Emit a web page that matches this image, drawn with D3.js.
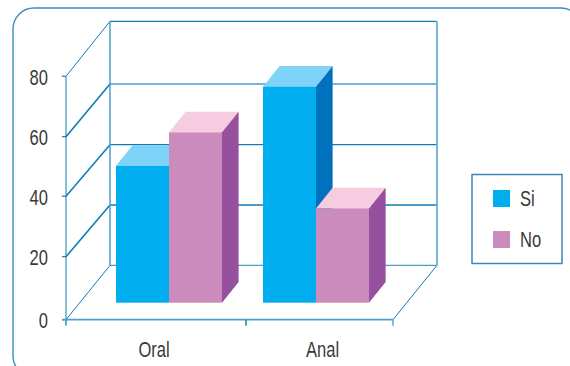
<!DOCTYPE html>
<html><head><meta charset="utf-8">
<script src="https://cdn.jsdelivr.net/npm/d3@7"></script>
<style>html,body{margin:0;padding:0;background:#fff}svg{display:block}
text{font-family:"Liberation Sans",sans-serif;fill:#3a3a3a;font-size:21.5px}</style>
</head><body><svg id="c" width="570" height="366"></svg>
<script>
const categories = ["Oral", "Anal"];
const seriesNames = ["Si", "No"];
const siValues = [45, 71];
const noValues = [56, 31];
const yTicks = [0, 20, 40, 60, 80];
const axisStops = [0, 1, 2];

const colors = {
  Si: {front: "#00aeef", side: "#0071bc", top: "#7fd3f9"},
  No: {front: "#cc8bbd", side: "#96509e", top: "#f6cde0"}
};
const lineDark = "#0f7db5", lineLight = "#4c9fcb";

const svg = d3.select("#c");
const y = d3.scaleLinear().domain([0, 80]).range([319.7, 76.3]);
const yFrontTick = d3.scaleLinear().domain(yTicks).range([319.7, 256.7, 196.3, 136.7, 76.3]);
const yBackTick = d3.scaleLinear().domain(yTicks).range([265.3, 205, 144.7, 84, 21.3]);
const depthX = d3.scaleLinear().domain([0, 1]).range([0, 44]);
const depthY = d3.scaleLinear().domain([0, 1]).range([0, -54.5]);
const axisX = d3.scaleLinear().domain([0, 1, 2]).range([66, 246, 393]);
const labelX = d3.scalePoint().domain(categories).range([154, 322.5]);
const groupX = d3.scaleBand().domain(categories).range([116, 369]).paddingInner(41/147).paddingOuter(0);
const barX = d3.scaleBand().domain(seriesNames).range([0, 106]);
const depthFront = 0.312, depthBack = 0.69;
const textScaleX = 0.77;

// panel
svg.append("rect").attr("x", 13).attr("y", 8).attr("width", 569).attr("height", 369).attr("rx", 21)
  .attr("fill", "none").attr("stroke", "#3a8fbf").attr("stroke-width", 1.4);

const x0 = axisX(0), x2 = axisX(2), dX = depthX(1);

// back wall grid
const grid = svg.append("g").attr("fill", "none");
yTicks.forEach(t => {
  const yf = yFrontTick(t), yb = yBackTick(t);
  grid.append("line").attr("x1", x0 + dX).attr("x2", x2 + dX - 0.5).attr("y1", yb).attr("y2", yb)
    .attr("stroke", t === 60 || t === 0 ? lineLight : lineDark).attr("stroke-width", t === 60 ? 1.7 : 1.3);
  grid.append("line").attr("x1", x0).attr("y1", yf).attr("x2", x0 + dX).attr("y2", yb)
    .attr("stroke", lineDark).attr("stroke-width", t === 0 || t === 80 ? 1 : 1.6);
  grid.append("line").attr("x1", x0 - 4).attr("x2", x0).attr("y1", yf).attr("y2", yf)
    .attr("stroke", lineDark).attr("stroke-width", 1.2);
});
grid.append("line").attr("x1", x0 + dX).attr("x2", x0 + dX).attr("y1", yBackTick(80)).attr("y2", yBackTick(0))
  .attr("stroke", lineLight).attr("stroke-width", 1.5);
grid.append("line").attr("x1", x2 + dX).attr("x2", x2 + dX).attr("y1", yBackTick(80)).attr("y2", yBackTick(0))
  .attr("stroke", lineLight).attr("stroke-width", 1.5);
grid.append("line").attr("x1", x2).attr("y1", yFrontTick(0)).attr("x2", x2 + dX).attr("y2", yBackTick(0))
  .attr("stroke", lineDark).attr("stroke-width", 1);
grid.append("line").attr("x1", x0).attr("x2", x0).attr("y1", yFrontTick(80)).attr("y2", yFrontTick(0) + 5)
  .attr("stroke", lineDark).attr("stroke-width", 1);
grid.append("line").attr("x1", x0 - 4).attr("x2", x2).attr("y1", yFrontTick(0)).attr("y2", yFrontTick(0))
  .attr("stroke", lineLight).attr("stroke-width", 1.8);
axisStops.forEach(s => {
  grid.append("line").attr("x1", axisX(s)).attr("x2", axisX(s)).attr("y1", yFrontTick(0)).attr("y2", yFrontTick(0) + 6)
    .attr("stroke", s === 1 ? lineDark : lineLight).attr("stroke-width", 1.4);
});

// bars
const bars = svg.append("g");
const ddx = depthX(depthBack - depthFront), ddy = depthY(depthBack - depthFront);
const fy0 = y(0) + depthY(depthFront);
categories.forEach((cat, i) => {
  seriesNames.forEach(name => {
    const v = (name === "Si" ? siValues : noValues)[i];
    const c = colors[name];
    const xa = groupX(cat) + barX(name), xb = xa + barX.bandwidth();
    const top = y(v) + depthY(depthFront);
    const poly = pts => bars.append("polygon").attr("points", pts.map(p => p.join(",")).join(" "));
    poly([[xa, top], [xa + ddx, top + ddy], [xb + ddx, top + ddy], [xb, top]]).attr("fill", c.top);
    poly([[xb, top], [xb + ddx, top + ddy], [xb + ddx, fy0 + ddy], [xb, fy0]]).attr("fill", c.side);
    bars.append("rect").attr("x", xa).attr("y", top).attr("width", xb - xa).attr("height", fy0 - top).attr("fill", c.front);
  });
});

const place = (x, yy) => `translate(${x},${yy}) scale(${textScaleX},1)`;
// y labels
svg.append("g").selectAll("text").data(yTicks).join("text")
  .attr("transform", d => place(48, yFrontTick(d) + 1)).attr("dy", "0.36em").attr("text-anchor", "end").text(d => d);
// x labels
svg.append("g").selectAll("text").data(categories).join("text")
  .attr("transform", d => place(labelX(d), 349)).attr("dy", "0.36em").attr("text-anchor", "middle").text(d => d);

// legend
svg.append("rect").attr("x", 472).attr("y", 174.5).attr("width", 90).attr("height", 89)
  .attr("fill", "#fff").attr("stroke", "#3f86b5").attr("stroke-width", 1.5);
const legendY = d3.scalePoint().domain(seriesNames).range([198.5, 239.5]);
seriesNames.forEach(name => {
  svg.append("rect").attr("x", 493).attr("y", legendY(name) - 8.5).attr("width", 17).attr("height", 17).attr("fill", colors[name].front);
  svg.append("text").attr("transform", place(520, legendY(name))).attr("dy", "0.36em").text(name);
});
</script></body></html>
